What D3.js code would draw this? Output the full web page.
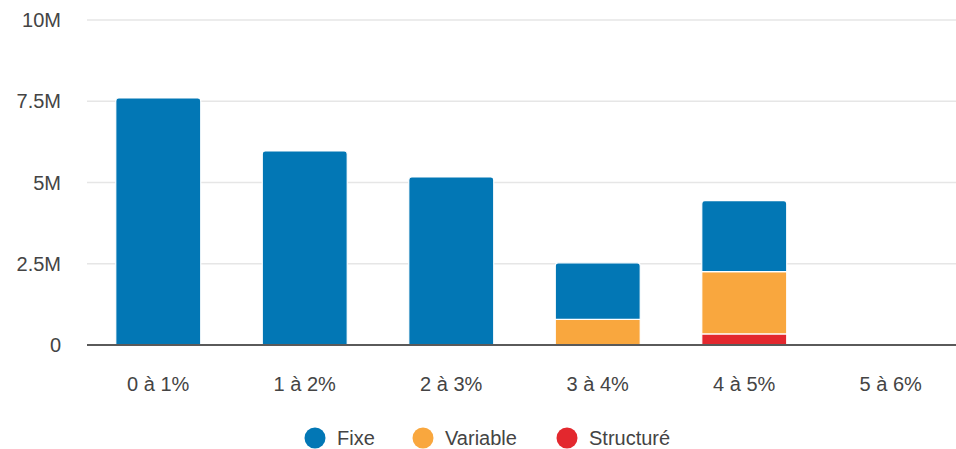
<!DOCTYPE html>
<html><head><meta charset="utf-8">
<script src="https://cdn.jsdelivr.net/npm/d3@7"></script>
<style>body{margin:0;background:#fff;}svg{display:block;font-family:"Liberation Sans",Arial,sans-serif;}</style>
</head><body>
<svg id="c" width="956" height="449"></svg>
<script>
const categories = ["0 à 1%", "1 à 2%", "2 à 3%", "3 à 4%", "4 à 5%", "5 à 6%"];
const seriesNames = ["Structuré", "Variable", "Fixe"];
const structure = [0, 0, 0, 0, 0.34, 0];
const variable = [0, 0, 0, 0.79, 1.92, 0];
const fixe = [7.6, 5.97, 5.17, 1.74, 2.18, 0.03];
const yTicks = [0, 2.5, 5, 7.5, 10];
const yTickLabels = ["0", "2.5M", "5M", "7.5M", "10M"];
const legendNames = ["Fixe", "Variable", "Structuré"];
const colors = {"Fixe": "#0277b5", "Variable": "#f9a73e", "Structuré": "#e3282e"};

const rows = categories.map((c, i) => ({cat: c, "Structuré": structure[i], "Variable": variable[i], "Fixe": fixe[i]}));
const stacked = d3.stack().keys(seriesNames)(rows);

const svg = d3.select("#c");
const x = d3.scaleBand().domain(categories).range([85, 964]).paddingInner(0.42).paddingOuter(0.21);
const y = d3.scaleLinear().domain([0, 10]).range([345, 20]);

// gridlines
svg.append("g").selectAll("line").data(yTicks.filter(t => t > 0)).join("line")
  .attr("x1", 87).attr("x2", 956).attr("y1", d => y(d)).attr("y2", d => y(d))
  .attr("stroke", "#e6e6e6").attr("stroke-width", 1.5);

// y labels
svg.append("g").selectAll("text").data(yTicks).join("text")
  .attr("x", 61).attr("y", d => y(d)).attr("dy", "0.35em").attr("text-anchor", "end")
  .attr("font-size", 20).attr("fill", "#444").text((d, i) => yTickLabels[i]);

// bars
const topKey = i => { for (let k = seriesNames.length - 1; k >= 0; k--) if (rows[i][seriesNames[k]] > 0) return seriesNames[k]; };
function roundTopPath(x0, y0, w, h, r) {
  r = Math.min(r, h, w / 2);
  return `M${x0},${y0 + h}V${y0 + r}Q${x0},${y0} ${x0 + r},${y0}H${x0 + w - r}Q${x0 + w},${y0} ${x0 + w},${y0 + r}V${y0 + h}Z`;
}
stacked.forEach(layer => {
  const key = layer.key;
  svg.append("g").selectAll("path").data(layer.map((d, i) => ({d, i}))).join("path")
    .filter(o => o.d[1] - o.d[0] > 0)
    .attr("d", o => {
      const x0 = x(categories[o.i]), w = x.bandwidth();
      const yTop = y(o.d[1]), yBot = y(o.d[0]);
      const isTop = topKey(o.i) === key;
      const h = yBot - yTop;
      return roundTopPath(x0, yTop, w, h, isTop ? 3 : 0);
    })
    .attr("fill", colors[key])
    .attr("stroke", "#fff").attr("stroke-width", 1.2);
});

// baseline
svg.append("line").attr("x1", 87).attr("x2", 956).attr("y1", y(0)).attr("y2", y(0))
  .attr("stroke", "#5a5a5a").attr("stroke-width", 2);

// x labels
svg.append("g").selectAll("text").data(categories).join("text")
  .attr("x", d => x(d) + x.bandwidth() / 2).attr("y", 384).attr("dy", "0.35em")
  .attr("text-anchor", "middle").attr("font-size", 20).attr("fill", "#444").text(d => d);

// legend
const legendX = [315, 423, 567];
const lg = svg.append("g").selectAll("g").data(legendNames).join("g")
  .attr("transform", (d, i) => `translate(${legendX[i]},438)`);
lg.append("circle").attr("r", 10.5).attr("fill", d => colors[d]);
lg.append("text").attr("x", 22).attr("dy", "0.35em").attr("font-size", 20).attr("fill", "#444").text(d => d);
</script>
</body></html>
